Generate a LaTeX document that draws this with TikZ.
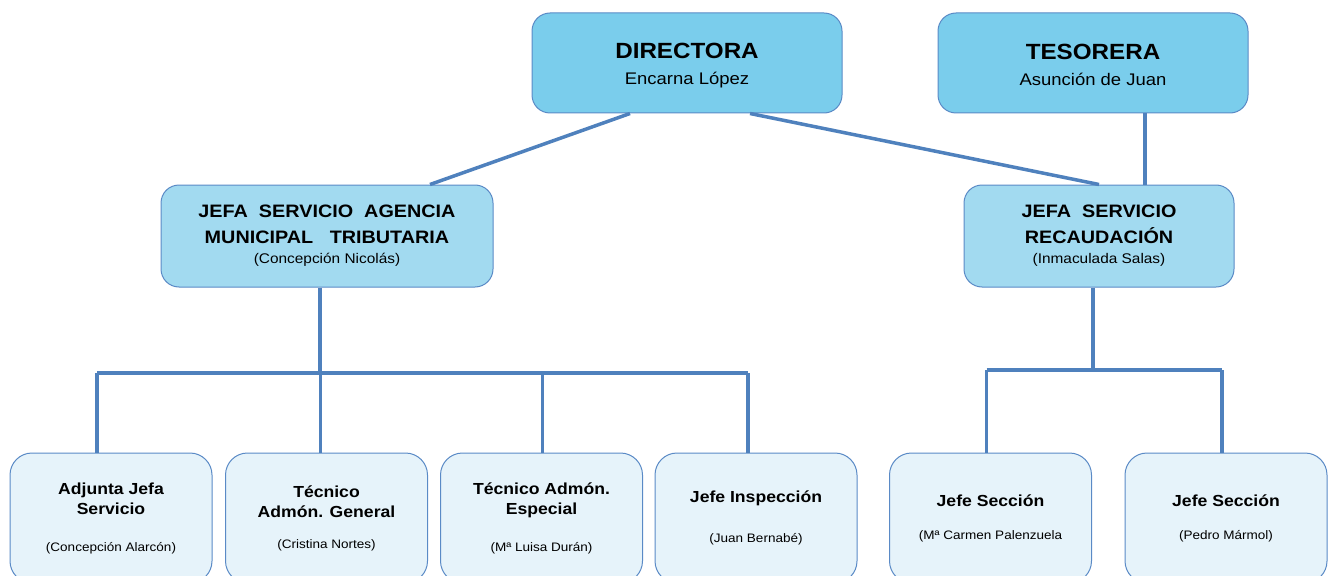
\documentclass[tikz,border=0pt]{standalone}
\usepackage{fontspec}
\setmainfont[FakeStretch=1.1]{Liberation Sans}

\definecolor{topfill}{HTML}{7ACDEC}
\definecolor{midfill}{HTML}{A2DAF0}
\definecolor{lowfill}{HTML}{E6F3FA}
\definecolor{boxline}{HTML}{5A8AC6}
\definecolor{wire}{HTML}{4F81BD}

\tikzstyle{box} = [draw=boxline, line width=1pt, rounded corners=18pt, align=center, inner sep=0pt]
\tikzstyle{topbox} = [box, fill=topfill, minimum width=310pt, minimum height=100pt,
    text height=46pt, font=\fontsize{22}{26}\selectfont\bfseries]
\tikzstyle{midbox} = [box, fill=midfill, minimum height=102pt,
    font=\fontsize{18}{26}\selectfont\bfseries]
\tikzstyle{lowbox} = [box, fill=lowfill, rounded corners=22pt, minimum width=202pt, minimum height=130pt,
    font=\fontsize{16}{20}\selectfont\bfseries]
\tikzstyle{link} = [draw=wire, line width=3.5pt]

\newcommand{\topname}[1]{{\fontsize{16.8}{18}\selectfont\mdseries #1}}
\newcommand{\midname}[1]{{\fontsize{14}{16}\selectfont\mdseries #1}}
\newcommand{\lowname}[1]{{\fontsize{12.3}{14}\selectfont\mdseries #1}}

\begin{document}
\begin{tikzpicture}[x=1pt, y=-1pt]
\clip (0,0) rectangle (1329,575);

% first level
\node[topbox] (dir) at (687,63) {DIRECTORA\\ \topname{Encarna López}};
\node[topbox] (tes) at (1093,63) {TESORERA\\ \topname{Asunción de Juan}};

% second level
\node[midbox, minimum width=332pt] (amt) at (327,236)
    {JEFA\ \ SERVICIO\ \ AGENCIA\\ MUNICIPAL\ \ \ TRIBUTARIA\\[-6pt]
     \midname{(Concepción Nicolás)}};
\node[midbox, minimum width=270pt] (rec) at (1099,236)
    {JEFA\ \ SERVICIO\\ RECAUDACIÓN\\[-6pt]
     \midname{(Inmaculada Salas)}};

% third level
\node[lowbox] (adj) at (111,518)
    {Adjunta Jefa\\ Servicio\\[17pt] \lowname{(Concepción Alarcón)}};
\node[lowbox] (tag) at (326.5,518)
    {Técnico\\ Admón. General\\[11pt] \lowname{(Cristina Nortes)}};
\node[lowbox] (tae) at (541.5,518)
    {Técnico Admón.\\ Especial\\[17pt] \lowname{(Mª Luisa Durán)}};
\node[lowbox] (ins) at (756,518)
    {Jefe Inspección\\[20pt] \lowname{(Juan Bernabé)}};
\node[lowbox] (se1) at (990.5,518)
    {Jefe Sección\\[13pt] \lowname{(Mª Carmen Palenzuela}};
\node[lowbox] (se2) at (1226,518)
    {Jefe Sección\\[13pt] \lowname{(Pedro Mármol)}};

% bus points
\coordinate (busL) at (0,373);
\coordinate (busR) at (0,370);

% connectors
\draw[link] ([xshift=-57pt]dir.south) -- ([xshift=103pt]amt.north);
\draw[link] ([xshift=63pt]dir.south) -- (rec.north);
\draw[link] ([xshift=52pt]tes.south) -- ([xshift=46pt]rec.north);

\draw[link] ([xshift=-7pt]amt.south) -- ([xshift=-7pt]amt.south |- busL);
\draw[link] ([xshift=-14pt]adj.north |- busL) -- ([xshift=-8pt]ins.north |- busL);
\foreach \b/\s in {adj/-14pt, tag/-6pt, tae/1pt, ins/-8pt}
    \draw[link] ([xshift=\s]\b.north) -- ([xshift=\s]\b.north |- busL);

\draw[link] ([xshift=-6pt]rec.south) -- ([xshift=-6pt]rec.south |- busR);
\draw[link] ([xshift=-4pt]se1.north |- busR) -- ([xshift=-4pt]se2.north |- busR);
\foreach \b in {se1, se2}
    \draw[link] ([xshift=-4pt]\b.north) -- ([xshift=-4pt]\b.north |- busR);
\end{tikzpicture}
\end{document}
